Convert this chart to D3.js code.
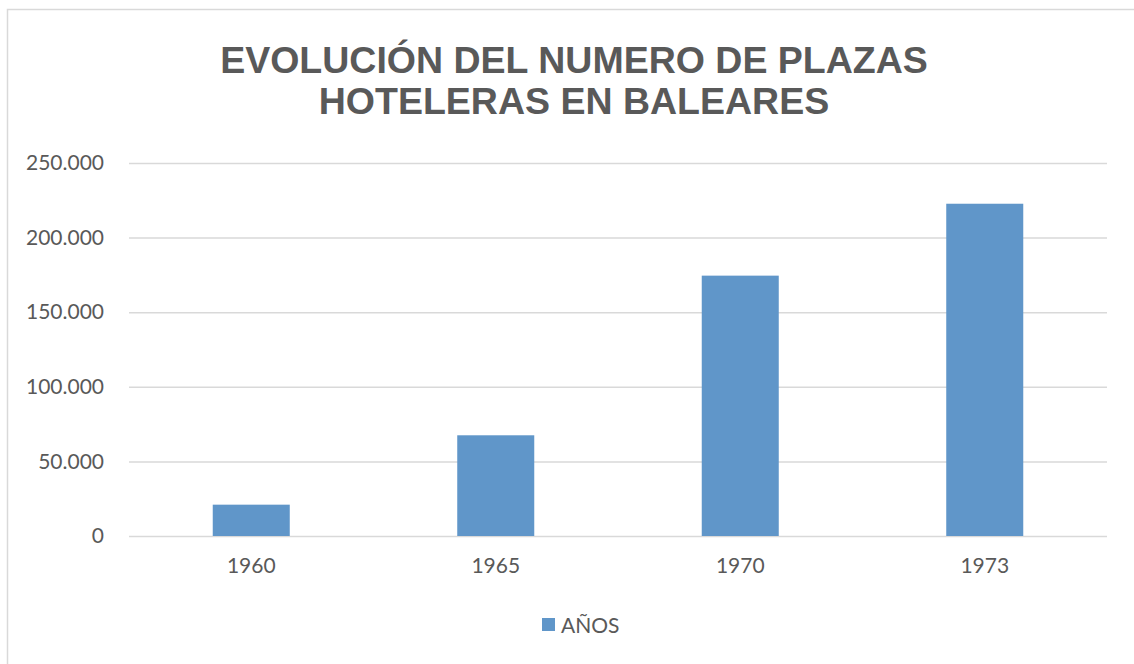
<!DOCTYPE html>
<html>
<head>
<meta charset="utf-8">
<script src="https://cdn.jsdelivr.net/npm/d3@7"></script>
<style>
  body { margin: 0; background: #fff; }
  #chart { width: 1134px; height: 664px; }
</style>
</head>
<body>
<div id="chart"></div>
<script>
const years = ["1960", "1965", "1970", "1973"];
const plazas = [21000, 67500, 174500, 222700];
const yTicks = [0, 50000, 100000, 150000, 200000, 250000];
const titleLines = ["EVOLUCIÓN DEL NUMERO DE PLAZAS", "HOTELERAS EN BALEARES"];
const seriesName = "AÑOS";

const dims = {width: 1134, height: 664, top: 163, right: 27, bottom: 128, left: 129};
const barColor = "#6096c9";
const textColor = "#595959";
const gridColor = "#d9d9d9";
const labelFont = "Lato, 'Open Sans', sans-serif";

const svg = d3.select("#chart")
    .append("svg")
    .attr("width", dims.width)
    .attr("height", dims.height);

// chart frame (runs off the right and bottom edges)
svg.append("rect")
    .attr("x", 7.5)
    .attr("y", 9.5)
    .attr("width", dims.width + 20)
    .attr("height", dims.height + 20)
    .style("fill", "white")
    .style("stroke", gridColor)
    .style("stroke-width", 1.5);

const x = d3.scaleBand()
    .domain(years)
    .range([dims.left, dims.width - dims.right])
    .paddingInner(0.685)
    .paddingOuter(0.3425);

const y = d3.scaleLinear()
    .domain([0, 250000])
    .range([dims.height - dims.bottom, dims.top]);

// title
svg.append("text")
    .attr("x", 574)
    .attr("y", 73)
    .attr("text-anchor", "middle")
    .style("font-family", "'Liberation Sans', Arial, sans-serif")
    .style("font-weight", "bold")
    .style("font-size", "37.5px")
    .style("fill", textColor)
    .selectAll("tspan")
    .data(titleLines)
    .enter().append("tspan")
    .attr("x", 574)
    .attr("dy", (d, i) => i === 0 ? 0 : 40.5)
    .text(d => d);

// gridlines
svg.append("g")
    .attr("class", "grid")
    .attr("transform", "translate(" + dims.left + ",0)")
    .call(d3.axisLeft(y)
        .tickValues(yTicks)
        .tickSize(-(dims.width - dims.left - dims.right))
        .tickFormat("")
    )
    .call(g => g.select(".domain").remove())
    .call(g => g.selectAll("line").style("stroke", gridColor).style("stroke-width", 1.5));

// y labels
const fmt = d3.formatLocale({decimal: ",", thousands: ".", grouping: [3], currency: ["", ""]}).format(",d");
svg.append("g")
    .attr("transform", "translate(" + dims.left + ",0)")
    .call(d3.axisLeft(y)
        .tickValues(yTicks)
        .tickSize(0)
        .tickPadding(25)
        .tickFormat(fmt)
    )
    .call(g => g.select(".domain").remove())
    .call(g => g.selectAll("text")
        .style("font-family", labelFont)
        .style("font-size", "21px")
        .style("fill", textColor));

// bars
svg.append("g")
    .selectAll("rect")
    .data(years.map((d, i) => ({year: d, value: plazas[i]})))
    .enter().append("rect")
    .attr("x", d => x(d.year))
    .attr("y", d => y(d.value))
    .attr("width", x.bandwidth())
    .attr("height", d => y(0) - y(d.value))
    .style("fill", barColor);

// x labels
svg.append("g")
    .attr("transform", "translate(0," + y(0) + ")")
    .call(d3.axisBottom(x).tickSize(0).tickPadding(22))
    .call(g => g.select(".domain").remove())
    .call(g => g.selectAll("text")
        .style("font-family", labelFont)
        .style("font-size", "21px")
        .style("fill", textColor));

// legend
const legend = svg.append("g").attr("transform", "translate(542,618)");
legend.append("rect")
    .attr("width", 13)
    .attr("height", 13)
    .style("fill", barColor);
legend.append("text")
    .attr("x", 19)
    .attr("y", 14.5)
    .text(seriesName)
    .style("font-family", labelFont)
    .style("font-size", "21px")
    .style("fill", textColor);
</script>
</body>
</html>
